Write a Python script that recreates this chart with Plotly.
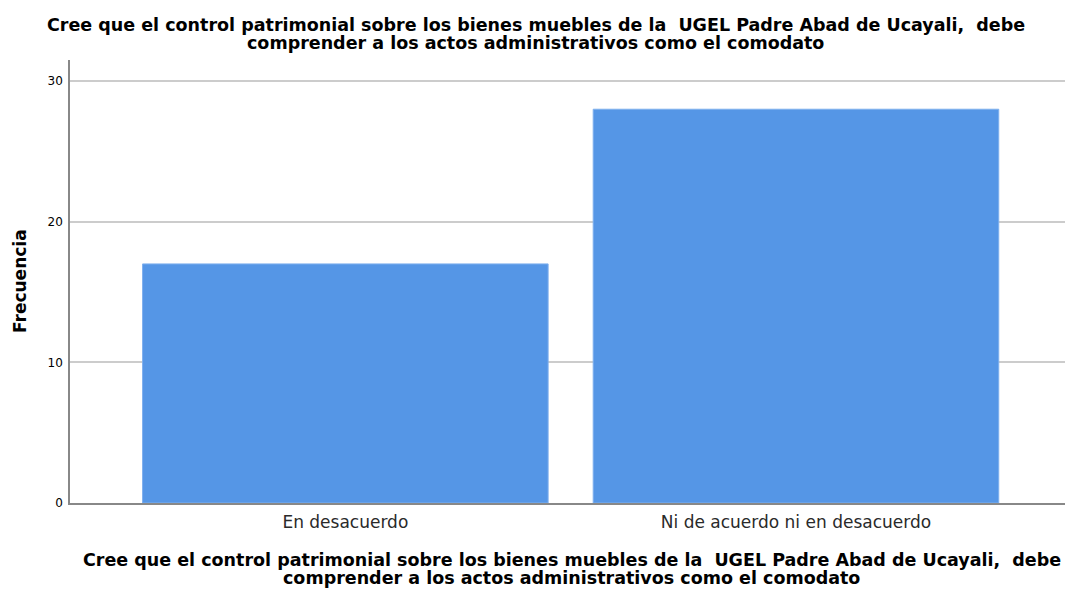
import plotly.graph_objects as go

categories = ["En desacuerdo", "Ni de acuerdo ni en desacuerdo"]
values = [17, 28]
y_ticks = [0, 10, 20, 30]
title_lines = ["Cree que el control patrimonial sobre los bienes muebles de la  UGEL Padre Abad de Ucayali,  debe",
               "comprender a los actos administrativos como el comodato"]
y_title = "Frecuencia"

xpos = list(range(len(categories)))

W, H = 1065, 590
L, R, T, B = 70, 0, 60, 87
plot_h = H - T - B
plot_w = W - L - R

def py(p):
    return (H - B - p) / plot_h

def px(p):
    return (p - L) / plot_w

fig = go.Figure(go.Bar(
    x=xpos, y=values, width=0.9,
    marker=dict(color="#5596E6", line=dict(color="#7FB0EE", width=1)),
))

FONT = "DejaVu Sans, Verdana, sans-serif"
annotations = []
for txt, pcy in zip(title_lines, [25, 43]):
    annotations.append(dict(text="<b>" + txt + "</b>", xref="paper", yref="paper",
                            x=px(535.5), y=py(pcy), xanchor="center", yanchor="middle",
                            showarrow=False, font=dict(size=17.5, color="#000000", family=FONT)))
for txt, pcy in zip(title_lines, [560, 578]):
    annotations.append(dict(text="<b>" + txt + "</b>", xref="paper", yref="paper",
                            x=px(571.5), y=py(pcy), xanchor="center", yanchor="middle",
                            showarrow=False, font=dict(size=17.5, color="#000000", family=FONT)))
annotations.append(dict(text="<b>" + y_title + "</b>", xref="paper", yref="paper",
                        x=px(20), y=py(281), xanchor="center", yanchor="middle",
                        textangle=-90, showarrow=False,
                        font=dict(size=17, color="#000000", family=FONT)))

fig.update_layout(
    width=W, height=H,
    margin=dict(l=L, r=R, t=T, b=B, autoexpand=False),
    paper_bgcolor="white", plot_bgcolor="white",
    font=dict(family=FONT, color="#000000"),
    showlegend=False,
    annotations=annotations,
)

fig.update_xaxes(
    tickvals=xpos, ticktext=categories, range=[-0.611, 1.597],
    showline=True, linecolor="#888888", linewidth=1.5,
    showgrid=False, ticks="", zeroline=False, automargin=False,
    ticklabelstandoff=3,
    tickfont=dict(size=17, color="#2a2a2a"),
)

fig.update_yaxes(
    range=[0, 31.5], tickvals=y_ticks,
    showline=True, linecolor="#888888", linewidth=1.5,
    showgrid=True, gridcolor="#CCCCCC", gridwidth=1.5,
    zeroline=False, ticks="", automargin=False,
    ticklabelstandoff=3,
    tickfont=dict(size=12, color="#000000"),
)

fig.write_html("out.html",
               config={"displayModeBar": False},
               post_script="document.body.style.margin='0';document.body.style.overflow='hidden';")
